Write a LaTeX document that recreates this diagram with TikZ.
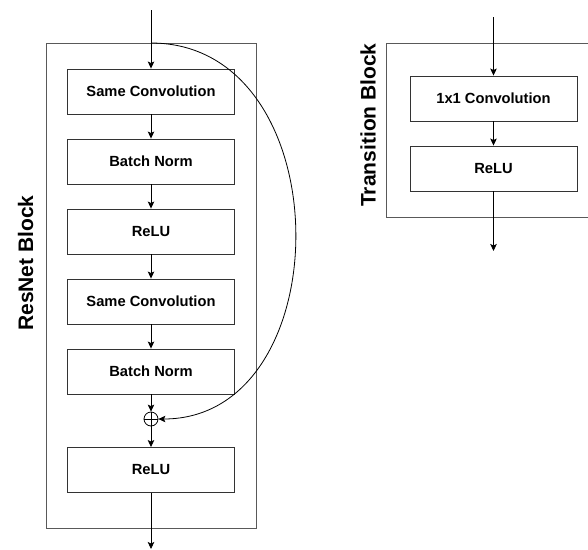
\documentclass[tikz,border=0pt]{standalone}
\usepackage{fontspec}
\setmainfont{Liberation Sans}
\usetikzlibrary{arrows.meta}
\begin{document}
\begin{tikzpicture}[x=1pt,y=-1pt,
  layer/.style={draw=black!80,line width=0.9pt,minimum width=167pt,minimum height=45pt,inner sep=0pt,font=\fontsize{14.7}{16}\selectfont\bfseries},
  outer/.style={draw=black!65,line width=1pt},
  flow/.style={draw=black,line width=0.8pt,-{Stealth[length=7pt,width=6.5pt,inset=1.5pt]}},
  lbl/.style={font=\fontsize{21}{24}\selectfont\bfseries,rotate=90,inner sep=0pt}]
\useasboundingbox (0,0) rectangle (588,549);
% ResNet block
\draw[outer] (46,43) rectangle (256,528);
\node[lbl] (lres) at (25.5,263) {ResNet Block};
\coordinate (rin) at (151,10);
\coordinate (rtop) at (151,43);
\node[layer] (c1) at (151,91.5) {Same Convolution};
\node[layer] (b1) at (151,161.5) {Batch Norm};
\node[layer] (r1) at (151,231.5) {ReLU};
\node[layer] (c2) at (151,301.5) {Same Convolution};
\node[layer] (b2) at (151,371.5) {Batch Norm};
\node[circle,draw=black,line width=0.8pt,minimum size=14pt,inner sep=0pt] (plus) at (151,419) {};
\draw[line width=0.8pt] (plus.north) -- (plus.south) (plus.west) -- (plus.east);
\node[layer] (r2) at (151,470) {ReLU};
\coordinate (rout) at (151,549);
\draw[flow] (rin) -- (c1);
\draw[flow] (c1) -- (b1);
\draw[flow] (b1) -- (r1);
\draw[flow] (r1) -- (c2);
\draw[flow] (c2) -- (b2);
\draw[flow] (b2) -- (plus);
\draw[flow] (plus) -- (r2);
\draw[flow] (r2) -- (rout);
\draw[flow] (rtop) .. controls (342,43) and (342,419) .. (plus.east);
% Transition block
\draw[outer] (386,43) rectangle (600,217);
\node[lbl] (ltr) at (368,125) {Transition Block};
\coordinate (tin) at (493.5,17);
\node[layer] (t1) at (493.5,98.5) {1x1 Convolution};
\node[layer] (t2) at (493.5,168.5) {ReLU};
\coordinate (tout) at (493.5,251);
\draw[flow] (tin) -- (t1);
\draw[flow] (t1) -- (t2);
\draw[flow] (t2) -- (tout);
\end{tikzpicture}
\end{document}
